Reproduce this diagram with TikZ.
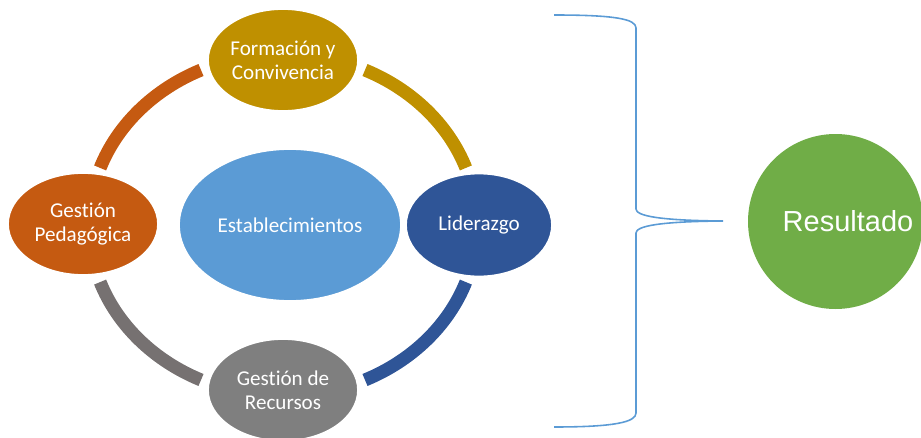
\documentclass[tikz,border=0pt]{standalone}
\usepackage{fontspec}
\setmainfont{Carlito}[Ligatures=NoCommon]
\newfontfamily\arialfont{Liberation Sans}
\usepackage{tikz}
\usetikzlibrary{shapes.geometric}
\definecolor{formgold}{HTML}{BF9000}
\definecolor{lidblue}{HTML}{2F5597}
\definecolor{recgray}{HTML}{7F7F7F}
\definecolor{recarc}{HTML}{767171}
\definecolor{pedorange}{HTML}{C55A11}
\definecolor{hubblue}{HTML}{5B9BD5}
\definecolor{resgreen}{HTML}{70AD47}

\begin{document}
\begin{tikzpicture}[thick,main/.style={ellipse,draw=white,line width=1pt,inner sep=0pt,text=white,align=center,font=\fontsize{12}{13.8}\selectfont,minimum width=3cm,minimum height=2.04cm},ring/.style={line width=7.4pt},brace/.style={draw=hubblue,line width=0.9pt}]
          \useasboundingbox (0,0) rectangle (18.42,8.74);
          \coordinate (c) at (5.66,4.24);
          \draw[ring,formgold] (c) ++(65:3.88cm and 3.42cm) arc[start angle=65,end angle=19.5,x radius=3.88cm,y radius=3.42cm];
          \draw[ring,lidblue] (c) ++(-19.5:3.88cm and 3.42cm) arc[start angle=-19.5,end angle=-65,x radius=3.88cm,y radius=3.42cm];
          \draw[ring,recarc] (c) ++(-115:3.88cm and 3.42cm) arc[start angle=-115,end angle=-160.5,x radius=3.88cm,y radius=3.42cm];
          \draw[ring,pedorange] (c) ++(160.5:3.88cm and 3.42cm) arc[start angle=160.5,end angle=115,x radius=3.88cm,y radius=3.42cm];

          \node[main,fill=hubblue,minimum width=4.44cm,minimum height=3.04cm] (n_est) at (5.80,4.24) {Establecimientos};
          \node[main,fill=formgold] (n_form) at (5.66,7.54) {Formación y\\Convivencia};
          \node[main,fill=lidblue,minimum width=2.92cm,minimum height=2.06cm] (n_lid) at (9.58,4.24) {Liderazgo};
          \node[main,fill=recgray] (n_rec) at (5.66,0.94) {Gestión de\\Recursos};
          \node[main,fill=pedorange] (n_ped) at (1.66,4.26) {Gestión\\Pedagógica};
          \node[circle,fill=resgreen,inner sep=0pt,minimum size=3.5cm,text=white,font=\arialfont\fontsize{16.5}{19}\selectfont] (n_res) at (16.71,4.31) {\hspace*{0.5cm}Resultado};

          \coordinate (b_top) at (11.08,8.44);
          \coordinate (b_tip) at (14.46,4.32);
          \coordinate (b_bot) at (11.08,0.20);
          \draw[brace] (b_top) .. controls (12.3,8.44) and (12.72,8.36) .. (12.72,8.18) -- (12.72,4.56) .. controls (12.72,4.42) and (13.2,4.33) .. (b_tip) .. controls (13.2,4.31) and (12.72,4.22) .. (12.72,4.08) -- (12.72,0.48) .. controls (12.72,0.30) and (12.3,0.20) .. (b_bot);
        \end{tikzpicture}
\end{document}
